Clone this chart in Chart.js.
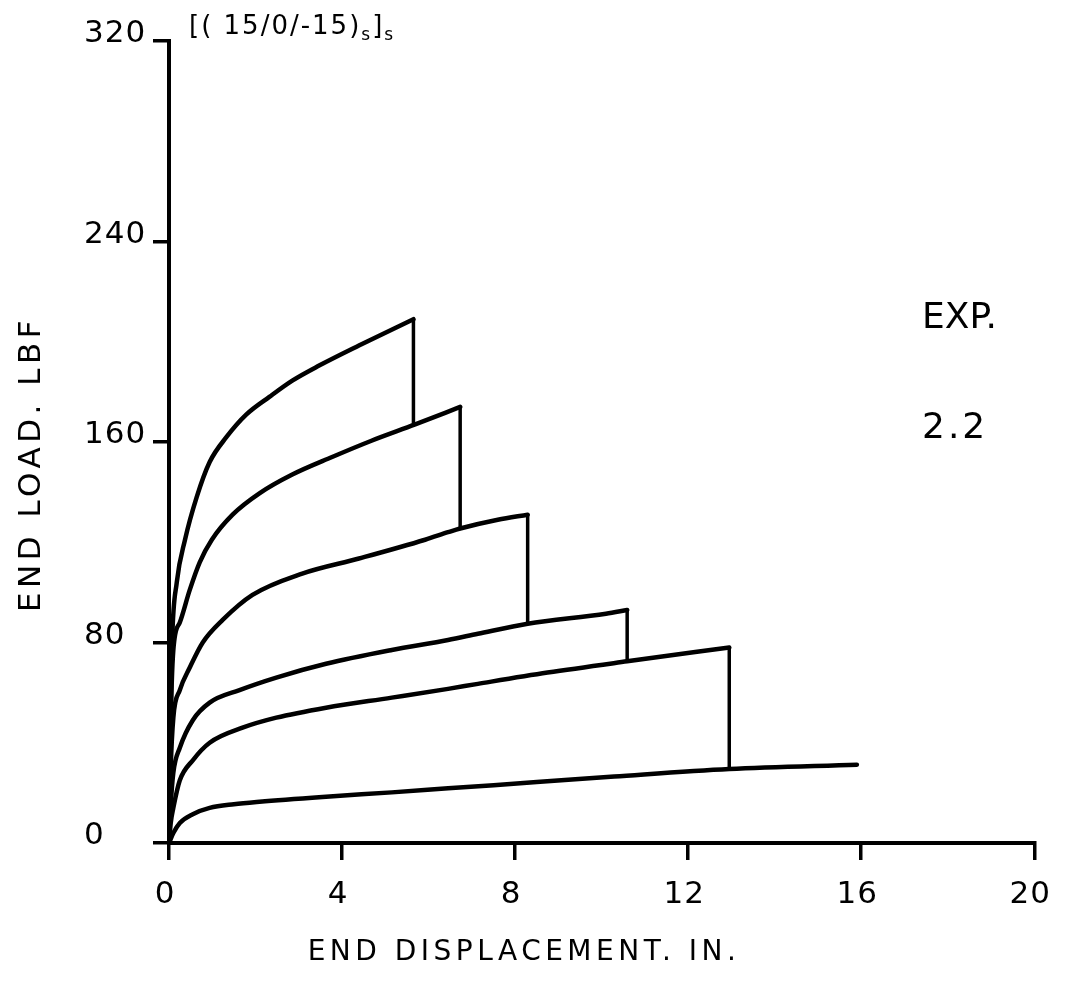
<!DOCTYPE html>
<html><head><meta charset="utf-8">
<script src="https://cdn.jsdelivr.net/npm/chart.js@4.4.1/dist/chart.umd.min.js"></script>
<style>html,body{margin:0;padding:0;background:#fff;}#wrap{width:1070px;height:989px;}</style>
</head><body><div id="wrap"><canvas id="c" width="1070" height="989"></canvas></div>
<script>
// ---- data ----
const xTickValues = [0, 4, 8, 12, 16, 20];
const yTickValues = [0, 80, 160, 240, 320];

const curve1X = [0, 0.03, 0.07, 0.18, 0.37, 0.64, 0.94, 1.33, 1.79, 2.32, 2.85, 3.47, 4.39, 5.65];
const curve1Y = [0, 45, 80, 104, 121, 138, 152, 162, 171, 178, 184.5, 190.5, 198.5, 209];

const curve2X = [0, 0.03, 0.1, 0.25, 0.48, 0.71, 0.99, 1.47, 2.09, 2.85, 3.77, 4.68, 5.69, 6.73];
const curve2Y = [0, 40, 77, 88, 101, 112, 121, 131, 139.5, 147, 154, 160.5, 167, 174];

const curve3X = [0, 0.04, 0.1, 0.25, 0.48, 0.78, 1.24, 1.93, 3.08, 4.39, 5.92, 6.45, 6.73, 7.6, 8.29];
const curve3Y = [0, 30, 50, 61, 70, 80, 89, 99, 107.5, 113.5, 121, 124, 125.5, 129, 131];

const curve4X = [0, 0.04, 0.1, 0.25, 0.55, 0.94, 1.63, 2.48, 3.63, 5.15, 6.45, 7.14, 8.29, 10.1, 10.59];
const curve4Y = [0, 15, 28, 38, 49, 56, 61, 66, 71.5, 77, 81, 83.5, 87.5, 91.5, 93];

const curve5X = [0, 0.04, 0.1, 0.25, 0.55, 0.94, 1.7, 2.48, 3.63, 5.15, 6.45, 7.14, 8.75, 10.59, 12.95];
const curve5Y = [0, 8, 14, 25, 33, 40, 46, 50, 54, 58, 61.5, 63.5, 68, 72.5, 78];

const curve6X = [0, 0.1, 0.25, 0.55, 0.94, 1.5, 2.09, 3.63, 5.15, 6.45, 8.5, 10.29, 12.95, 15.9];
const curve6Y = [0, 4, 8, 11.5, 14, 15.5, 16.5, 18.5, 20.2, 21.8, 24.3, 26.5, 29.5, 31.2];

const dropX = [5.65, 6.73, 8.29, 10.59, 12.95];
const dropTop = [209, 174, 131, 93, 78];
const dropBottom = [167, 125.5, 87.5, 72.5, 29.5];

// ---- build ----
const curvesX = [curve1X, curve2X, curve3X, curve4X, curve5X, curve6X];
const curvesY = [curve1Y, curve2Y, curve3Y, curve4Y, curve5Y, curve6Y];
const datasets = [];
curvesX.forEach((xs, i) => {
  datasets.push({
    data: xs.map((x, j) => ({x: x, y: curvesY[i][j]})),
    showLine: true, borderColor: '#000', borderWidth: 4.5, pointRadius: 0,
    cubicInterpolationMode: 'monotone', fill: false, borderCapStyle: 'round', borderJoinStyle: 'round'
  });
});
dropX.forEach((x, i) => {
  datasets.push({
    data: [{x: x, y: dropTop[i]}, {x: x, y: dropBottom[i]}],
    showLine: true, borderColor: '#000', borderWidth: 3.5, pointRadius: 0, tension: 0, fill: false,
    borderCapStyle: 'round'
  });
});

const FONT = 'DejaVu Sans';

const textPlugin = {
  id: 'texts',
  beforeDraw(chart) { chart.ctx.letterSpacing = '1px'; },
  afterDraw(chart) {
    const ctx = chart.ctx;
    ctx.save();
    ctx.fillStyle = '#000';
    // title with subscripts
    ctx.textAlign = 'left'; ctx.textBaseline = 'alphabetic';
    ctx.letterSpacing = '2px';
    let x = 189;
    ctx.font = '26px ' + FONT; ctx.fillText('[( 15/0/-15)', x, 34); x += ctx.measureText('[( 15/0/-15)').width;
    ctx.font = '17px ' + FONT; ctx.fillText('s', x, 40); x += ctx.measureText('s').width;
    ctx.font = '26px ' + FONT; ctx.fillText(']', x, 34); x += ctx.measureText(']').width;
    ctx.font = '17px ' + FONT; ctx.fillText('s', x, 40);
    // EXP. 2.2
    ctx.letterSpacing = '0px';
    ctx.font = '36px ' + FONT; ctx.fillText('EXP.', 922, 328);
    ctx.letterSpacing = '3px';
    ctx.fillText('2.2', 922, 438);
    // axis titles
    ctx.textAlign = 'center'; ctx.textBaseline = 'middle';
    ctx.font = '28px ' + FONT; ctx.letterSpacing = '4.5px';
    ctx.fillText('END DISPLACEMENT. IN.', 524, 953);
    ctx.translate(32, 464); ctx.rotate(-Math.PI / 2);
    ctx.font = '31px ' + FONT; ctx.letterSpacing = '4.5px';
    ctx.fillText('END LOAD. LBF', 0, 0);
    ctx.restore();
  }
};

new Chart(document.getElementById('c'), {
  type: 'scatter',
  data: { datasets },
  plugins: [textPlugin],
  options: {
    responsive: false, animation: false, devicePixelRatio: 1,
    layout: { padding: { top: 41, right: 30, bottom: 0, left: 84 } },
    plugins: { legend: { display: false }, tooltip: { enabled: false } },
    scales: {
      x: {
        type: 'linear', min: 0, max: 20,
        afterBuildTicks(s) { s.ticks = xTickValues.map(v => ({value: v})); },
        afterFit(s) { s.height = 146; },
        ticks: { color: '#000', font: { family: FONT, size: 31 }, padding: 16, maxRotation: 0, labelOffset: -4 },
        grid: { drawOnChartArea: false, drawTicks: true, tickLength: 17, color: '#000', lineWidth: 3.5 },
        border: { display: true, color: '#000', width: 4 }
      },
      y: {
        type: 'linear', min: 0, max: 320,
        afterBuildTicks(s) { s.ticks = yTickValues.map(v => ({value: v})); },
        afterFit(s) { s.width = 85; },
        ticks: { color: '#000', font: { family: FONT, size: 31 }, padding: 6, labelOffset: -7, crossAlign: 'far' },
        grid: { drawOnChartArea: false, drawTicks: true, tickLength: 16, color: '#000', lineWidth: 3.5 },
        border: { display: true, color: '#000', width: 4 }
      }
    }
  }
});
</script></body></html>
